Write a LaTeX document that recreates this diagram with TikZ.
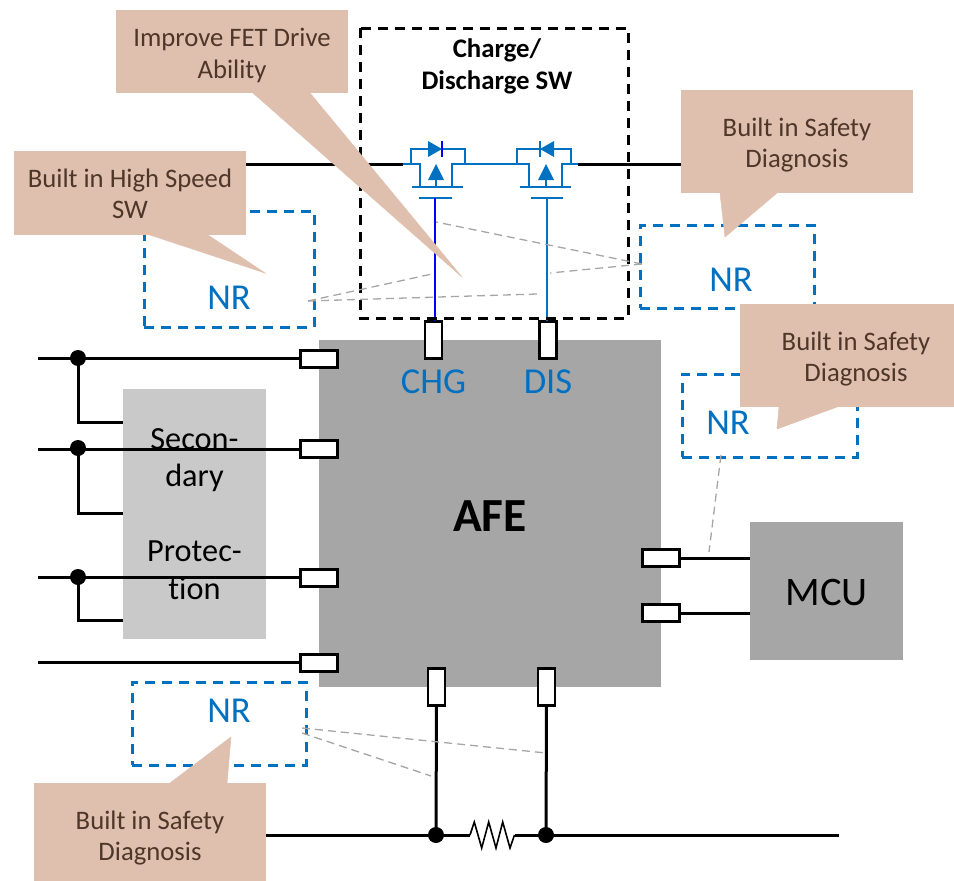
\documentclass[tikz,border=0pt]{standalone}
\usepackage{fontspec}
\usepackage{xcolor}
\usepackage{tikz}
\usetikzlibrary{positioning}
\setmainfont{Carlito}[Ligatures=CommonOff]
\definecolor{afe_grey}{HTML}{A6A6A6}
\definecolor{prot_grey}{HTML}{C9C9C9}
\definecolor{nr_blue}{HTML}{0070C0}
\definecolor{gate_blue}{HTML}{0000FF}
\definecolor{callout_tan}{HTML}{DFC0AF}
\definecolor{callout_text}{HTML}{4E3629}

\begin{document}
\begin{tikzpicture}[
        x=1pt, y=-1pt,
        block/.style={rectangle, fill=afe_grey, inner sep=0pt, outer sep=0pt, align=center},
        pad_h/.style={rectangle, draw=black, fill=white, line width=2.6pt, minimum width=37.5pt, minimum height=17.5pt, inner sep=0pt, outer sep=0pt},
        pad_v/.style={rectangle, draw=black, fill=white, line width=2.6pt, minimum width=17pt, minimum height=37.5pt, inner sep=0pt, outer sep=0pt},
        dot/.style={circle, fill=black, minimum size=16pt, inner sep=0pt, outer sep=0pt},
        wire/.style={draw=black, line width=3pt},
        fet_line/.style={draw=nr_blue, line width=2.8pt},
        fet_tip/.style={fill=nr_blue},
        guide/.style={draw=afe_grey, line width=1.3pt, dash pattern=on 8pt off 5pt},
        nr_box/.style={rectangle, draw=nr_blue, line width=3pt, dash pattern=on 10pt off 7pt, inner sep=0pt},
        nr_label/.style={text=nr_blue, inner sep=0pt, font=\fontsize{36.5}{44}\selectfont},
        callout/.style={rectangle, fill=callout_tan, minimum width=232pt, inner sep=0pt, outer sep=0pt},
        callout_label/.style={text=callout_text, align=center, inner sep=0pt, font=\fontsize{26.7}{31.5}\selectfont},
        callout_tip/.style={fill=callout_tan, draw=callout_tan, line width=0.5pt}
    ]
    \useasboundingbox (0,0) rectangle (954,881);
    % main blocks
    \node[block, minimum width=342pt, minimum height=347pt, text height=36pt, font=\fontsize{47.5}{56}\selectfont\bfseries] (afe) at (490,513.5) {AFE};
    \node[block, fill=prot_grey, minimum width=143pt, minimum height=250pt, font=\fontsize{32.3}{37.5}\selectfont] (secondary) at (194.5,514) {Secon-\\dary\\[37.5pt]Protec-\\tion};
    \node[block, minimum width=153pt, minimum height=138pt, text height=29.5pt, font=\fontsize{40.5}{48}\selectfont] (mcu) at (826.5,591) {MCU};
    % pads
    \node[pad_h] (pad_left_a) at (319,359) {};
    \node[pad_h] (pad_left_b) at (319,449) {};
    \node[pad_h] (pad_left_c) at (319,578) {};
    \node[pad_h] (pad_left_d) at (319,663) {};
    \node[pad_h] (pad_right_a) at (661,558) {};
    \node[pad_h] (pad_right_b) at (661,613) {};
    \node[pad_v] (pad_chg) at (433.5,340) {};
    \node[pad_v] (pad_dis) at (548,340) {};
    \node[pad_v] (pad_sense_a) at (436.5,687) {};
    \node[pad_v] (pad_sense_b) at (546.5,687) {};
    \node[nr_label] (chg_label) at (433.5,382) {CHG};
    \node[nr_label] (dis_label) at (548,382) {DIS};
    % left side wires
    \coordinate (in_a) at (38,358);
    \coordinate (in_b) at (38,449);
    \coordinate (in_c) at (38,577);
    \coordinate (in_d) at (38,662);
    \coordinate (tap_a) at (123,422);
    \coordinate (tap_b) at (123,513);
    \coordinate (tap_c) at (123,620);
    \node[dot] (dot_a) at (78,358) {};
    \node[dot] (dot_b) at (78,448) {};
    \node[dot] (dot_c) at (78,577) {};
    \draw[wire] (in_a) -- (in_a -| pad_left_a.west);
    \draw[wire] (in_b) -- (in_b -| pad_left_b.west);
    \draw[wire] (in_c) -- (in_c -| pad_left_c.west);
    \draw[wire] (in_d) -- (in_d -| pad_left_d.west);
    \draw[wire] (dot_a.center) |- (tap_a);
    \draw[wire] (dot_b.center) |- (tap_b);
    \draw[wire] (dot_c.center) |- (tap_c);
    % MCU wires
    \draw[wire] (pad_right_a.east) -- (pad_right_a.east -| mcu.west);
    \draw[wire] (pad_right_b.east) -- (pad_right_b.east -| mcu.west);
    % shunt
    \coordinate (shunt_in) at (260,835);
    \coordinate (shunt_out) at (839,835);
    \node[dot] (dot_sense_a) at (436,835) {};
    \node[dot] (dot_sense_b) at (546,835) {};
    \draw[wire] (pad_sense_a.south) -- (dot_sense_a.center);
    \draw[wire] (pad_sense_b.south) -- (dot_sense_b.center);
    \draw[wire] (shunt_in) -- (470,835);
    \draw[wire] (515,835) -- (shunt_out);
    \draw[draw=black, line width=1.6pt] (470,835) -- (474.3,822) -- (481.7,848) -- (488.7,822) -- (496,848) -- (502.7,822) -- (510,848) -- (514.5,835);
    % charge FET
    \coordinate (sw_in) at (240,164);
    \coordinate (sw_out) at (690,164);
    \draw[wire] (sw_in) -- (403,164);
    \draw[wire] (578,164) -- (sw_out);
    \draw[fet_line] (403,164) -- (420,164) -- (420,187);
    \draw[fet_line] (412,187) -- (463,187);
    \draw[fet_line] (452,187) -- (452,164) -- (529,164) -- (529,187);
    \draw[fet_line] (411,164) -- (411,149) -- (465,149) -- (465,164);
    \fill[fet_tip] (428,141) -- (428,157) -- (442,149) -- cycle;
    \draw[draw=gate_blue, line width=2.6pt] (442,141) -- (442,157);
    \fill[fet_tip] (436,164) -- (428,180) -- (444,180) -- cycle;
    \draw[fet_line] (436,180) -- (436,187);
    \draw[fet_line] (419,198) -- (452,198);
    \coordinate (gate_chg) at (435,198);
    \draw[draw=gate_blue, line width=2.8pt] (gate_chg) -- (gate_chg |- pad_chg.north);
    % discharge FET
    \draw[fet_line] (520,187) -- (571,187);
    \draw[fet_line] (562,187) -- (562,164) -- (578,164);
    \draw[fet_line] (517,164) -- (517,149) -- (571,149) -- (571,164);
    \fill[fet_tip] (554,141) -- (554,157) -- (540,149) -- cycle;
    \draw[fet_line] (540,141) -- (540,157);
    \fill[fet_tip] (546,164) -- (538,180) -- (554,180) -- cycle;
    \draw[fet_line] (546,180) -- (546,187);
    \draw[fet_line] (531,198) -- (563,198);
    \coordinate (gate_dis) at (547,198);
    \draw[fet_line] (gate_dis) -- (gate_dis |- pad_dis.north);
    % dashed frames
    \draw[draw=black, line width=3pt, dash pattern=on 10pt off 7pt] (360,28) rectangle (628,318);
    \node[font=\fontsize{26.8}{32}\selectfont\bfseries, align=center, inner sep=0pt] (sw_label) at (497,66) {Charge/\\Discharge SW};
    \node[nr_box, minimum width=170pt, minimum height=116pt] (nr_high) at (229,269) {};
    \node[nr_box, minimum width=174pt, minimum height=83pt] (nr_fet) at (727,266.5) {};
    \node[nr_box, minimum width=175pt, minimum height=83pt] (nr_mcu) at (769.5,415.5) {};
    \node[nr_box, minimum width=174pt, minimum height=83pt] (nr_sense) at (219,723.5) {};
    \node[nr_label] (nr_high_label) at (229,298) {NR};
    \node[nr_label] (nr_fet_label) at (731,280) {NR};
    \node[nr_label] (nr_mcu_label) at (728,423) {NR};
    \node[nr_label] (nr_sense_label) at (229,711) {NR};
    % grey guides
    \coordinate (guide_high) at (308,301);
    \coordinate (guide_fet) at (642,264);
    \coordinate (guide_sense_a) at (302,728);
    \coordinate (guide_sense_b) at (302,733);
    \draw[guide] (guide_high) -- (432,274);
    \draw[guide] (guide_high) -- (537,294);
    \draw[guide] (guide_fet) -- (436,222);
    \draw[guide] (guide_fet) -- (550,273);
    \draw[guide] (guide_sense_a) -- (546,753);
    \draw[guide] (guide_sense_b) -- (431,776);
    \draw[guide] (721,455) -- (709,552);
    % callouts
    \node[callout, minimum height=83pt] (callout_fet) at (232,51.5) {};
    \fill[callout_tip] ([xshift=137pt]callout_fet.south west) -- (462,277) -- ([xshift=194pt]callout_fet.south west) -- cycle;
    \node[callout_label, yshift=-4pt] (callout_fet_label) at (callout_fet) {Improve FET Drive\\Ability};
    \node[callout, minimum height=84pt] (callout_high) at (130,193) {};
    \fill[callout_tip] ([xshift=136pt]callout_high.south west) -- (265,273) -- ([xshift=194pt]callout_high.south west) -- cycle;
    \node[callout_label, yshift=-1pt] (callout_high_label) at (callout_high) {Built in High Speed\\SW};
    \node[callout, minimum height=103pt] (callout_safety_a) at (797,141.5) {};
    \fill[callout_tip] ([xshift=39pt]callout_safety_a.south west) -- (725,237) -- ([xshift=96pt]callout_safety_a.south west) -- cycle;
    \node[callout_label, yshift=-3.5pt] (callout_safety_a_label) at (callout_safety_a) {Built in Safety\\Diagnosis};
    \node[callout, minimum height=103pt] (callout_safety_b) at (856,355.5) {};
    \fill[callout_tip] ([xshift=39pt]callout_safety_b.south west) -- (777,429) -- ([xshift=97pt]callout_safety_b.south west) -- cycle;
    \node[callout_label, yshift=-3.5pt] (callout_safety_b_label) at (callout_safety_b) {Built in Safety\\Diagnosis};
    \node[callout, minimum height=103pt] (callout_safety_c) at (150,834.5) {};
    \fill[callout_tip] ([xshift=136pt]callout_safety_c.north west) -- (231,737) -- ([xshift=193pt]callout_safety_c.north west) -- cycle;
    \node[callout_label, yshift=-3.5pt] (callout_safety_c_label) at (callout_safety_c) {Built in Safety\\Diagnosis};
\end{tikzpicture}
\end{document}
